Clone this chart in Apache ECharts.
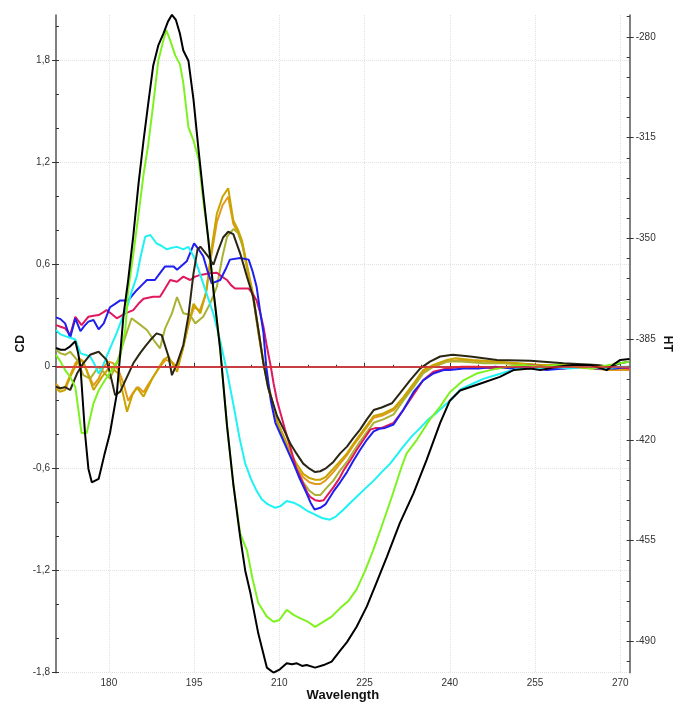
<!DOCTYPE html>
<html><head><meta charset="utf-8">
<script src="https://cdn.jsdelivr.net/npm/echarts@6/dist/echarts.min.js"></script>
<style>html,body{margin:0;padding:0;background:#fff}#c{width:677px;height:704px}</style>
</head><body><div id="c"></div>
<script>
// ---- axis ticks ----
const xTicks = [180,195,210,225,240,255,270];
const xMinorTicks = [175,180,185,190,195,200,205,210,215,220,225,230,235,240,245,250,255,260,265,270];
const cdTicks = [-1.8,-1.2,-0.6,0,0.6,1.2,1.8];
const cdMinorTicks = [-1.8,-1.6,-1.4,-1.2,-1.0,-0.8,-0.6,-0.4,-0.2,0,0.2,0.4,0.6,0.8,1.0,1.2,1.4,1.6,1.8,2.0];
const htTicks = [-490,-455,-420,-385,-350,-315,-280];
const htMinorTicks = [-497,-490,-483,-476,-469,-462,-455,-448,-441,-434,-427,-420,-413,-406,-399,-392,-385,-378,-371,-364,-357,-350,-343,-336,-329,-322,-315,-308,-301,-294,-287,-280,-273];

// ---- series values: [wavelength, CD] ----
const blackData = [[170.7,0.11],[171.5,0.1],[172.3,0.1],[173.2,0.12],[174.1,0.15],[174.6,0.08],[175.0,0.0],[175.8,-0.39],[176.4,-0.6],[177.0,-0.68],[178.2,-0.66],[179.2,-0.52],[180.2,-0.39],[181.4,-0.16],[182.6,0.31],[183.4,0.51],[184.3,0.77],[185.2,1.07],[186.1,1.33],[186.9,1.54],[187.8,1.77],[188.7,1.89],[189.6,1.96],[190.4,2.03],[191.1,2.07],[191.8,2.04],[192.5,1.96],[193.1,1.86],[194.0,1.8],[194.9,1.57],[195.8,1.27],[196.6,1.02],[197.5,0.75],[198.5,0.42],[199.6,0.1],[200.8,-0.35],[201.9,-0.69],[203.1,-1.0],[204.0,-1.2],[204.9,-1.33],[206.3,-1.57],[207.8,-1.77],[209.0,-1.8],[210.1,-1.78],[211.3,-1.745],[212.2,-1.75],[213.1,-1.745],[214.0,-1.76],[214.8,-1.755],[216.3,-1.77],[217.8,-1.755],[219.2,-1.735],[220.7,-1.67],[221.9,-1.62],[223.6,-1.53],[225.4,-1.41],[227.1,-1.27],[228.9,-1.12],[231.2,-0.92],[233.6,-0.745],[235.9,-0.55],[238.3,-0.33],[240.0,-0.2],[241.8,-0.14],[245.3,-0.1],[248.8,-0.06],[251.2,-0.02],[254.2,-0.01],[255.9,-0.02],[258.8,0.0],[261.7,0.01],[264.7,0.01],[267.6,-0.02],[269.1,0.02],[270.0,0.04],[271.6,0.045]];
const limeData = [[170.7,0.07],[171.5,0.03],[172.3,-0.02],[173.2,-0.06],[174.1,-0.12],[175.2,-0.39],[176.1,-0.39],[177.3,-0.215],[178.2,-0.14],[179.3,-0.08],[180.5,-0.02],[182.0,0.06],[182.9,0.22],[183.4,0.45],[184.3,0.66],[185.2,0.89],[186.1,1.13],[186.9,1.3],[187.8,1.54],[188.7,1.8],[189.6,1.92],[190.1,1.98],[190.8,1.92],[191.7,1.83],[192.5,1.78],[193.1,1.67],[194.0,1.41],[194.9,1.33],[195.8,1.22],[196.6,0.98],[197.5,0.75],[198.5,0.42],[199.6,0.1],[200.8,-0.35],[201.9,-0.69],[203.1,-0.98],[204.3,-1.08],[205.3,-1.25],[206.3,-1.39],[207.8,-1.47],[209.0,-1.5],[210.0,-1.49],[211.3,-1.43],[212.5,-1.46],[213.7,-1.48],[215.0,-1.5],[216.3,-1.53],[217.8,-1.5],[219.2,-1.47],[220.7,-1.42],[222.1,-1.38],[223.6,-1.31],[225.1,-1.2],[226.5,-1.08],[228.0,-0.94],[229.8,-0.765],[231.5,-0.59],[232.4,-0.51],[234.2,-0.43],[236.5,-0.31],[238.3,-0.235],[240.0,-0.15],[242.4,-0.08],[244.7,-0.04],[247.1,-0.02],[250,0.0],[253,0.01],[256,0.0],[259,0.01],[262,0.0],[265,-0.01],[268,0.01],[270,0.02],[271.6,0.03]];
const cyanData = [[170.7,0.215],[171.5,0.19],[172.3,0.18],[173.2,0.17],[174.1,0.16],[175.0,0.08],[175.8,0.07],[176.7,0.06],[177.4,0.02],[178.2,-0.04],[178.9,0.0],[179.6,0.06],[180.5,0.13],[181.4,0.2],[182.3,0.28],[183.2,0.35],[184.0,0.44],[184.9,0.53],[185.6,0.65],[186.4,0.765],[187.3,0.775],[188.4,0.725],[189.3,0.71],[190.2,0.69],[191.1,0.7],[192.0,0.705],[193.1,0.69],[194.0,0.705],[194.9,0.65],[195.8,0.57],[196.6,0.49],[197.5,0.4],[198.4,0.31],[199.6,0.15],[200.8,-0.03],[201.9,-0.22],[203.0,-0.42],[204.0,-0.57],[205.0,-0.66],[206.0,-0.73],[206.9,-0.78],[208.0,-0.81],[209.3,-0.83],[210.2,-0.82],[211.3,-0.79],[212.5,-0.8],[213.7,-0.82],[215.0,-0.85],[216.3,-0.87],[217.5,-0.89],[218.9,-0.9],[220.0,-0.88],[221.3,-0.84],[222.5,-0.8],[223.6,-0.765],[225.0,-0.72],[226.6,-0.67],[228.0,-0.62],[229.5,-0.57],[231.8,-0.47],[233.3,-0.41],[234.8,-0.36],[236.2,-0.31],[237.7,-0.27],[240.0,-0.2],[242.0,-0.13],[244.0,-0.1],[246.0,-0.07],[248.0,-0.05],[250.0,-0.03],[252.0,-0.01],[255,-0.01],[258,0.0],[261,-0.01],[264,0.0],[267,-0.01],[270,0.0],[271.6,0.0]];
const blueData = [[170.7,0.29],[171.5,0.28],[172.3,0.255],[173.2,0.17],[174.1,0.285],[175.0,0.21],[175.7,0.24],[176.4,0.265],[177.3,0.275],[178.2,0.22],[179.1,0.255],[180.2,0.35],[181.1,0.37],[182.0,0.39],[183.4,0.39],[184.9,0.45],[185.8,0.48],[186.7,0.51],[188.1,0.51],[189.0,0.55],[189.9,0.59],[191.4,0.59],[192.0,0.57],[193.7,0.62],[195.0,0.725],[195.8,0.69],[196.6,0.65],[197.3,0.57],[198.1,0.49],[199.6,0.51],[200.5,0.57],[201.3,0.63],[203.1,0.64],[204.6,0.63],[205.3,0.56],[206.0,0.47],[206.6,0.33],[207.2,0.2],[207.7,0.0],[208.5,-0.2],[209.3,-0.33],[210.1,-0.39],[211.3,-0.48],[212.5,-0.57],[213.6,-0.66],[214.8,-0.745],[215.5,-0.8],[216.2,-0.84],[217.2,-0.83],[218.1,-0.81],[219.5,-0.735],[220.7,-0.68],[221.9,-0.62],[223.0,-0.555],[224.2,-0.49],[225.4,-0.43],[226.6,-0.38],[227.6,-0.365],[228.6,-0.36],[230.1,-0.34],[231.8,-0.255],[233.6,-0.15],[235.3,-0.08],[237.1,-0.04],[238.9,-0.02],[240.0,-0.02],[242.4,-0.01],[245,-0.01],[248,0.0],[251,-0.01],[254,0.0],[257,-0.02],[260,-0.01],[263,0.0],[266,-0.01],[269,-0.01],[271.6,0.0]];
const crimsonData = [[170.7,0.245],[171.5,0.235],[172.3,0.226],[173.2,0.186],[174.1,0.294],[175.2,0.245],[175.8,0.27],[176.4,0.294],[177.3,0.3],[178.2,0.304],[179.0,0.32],[179.6,0.333],[180.5,0.31],[181.4,0.285],[182.9,0.314],[184.3,0.333],[185.2,0.37],[186.1,0.4],[187.8,0.412],[189.0,0.412],[189.9,0.46],[190.8,0.51],[192.0,0.5],[193.1,0.53],[194.3,0.51],[195.2,0.53],[196.1,0.54],[197.8,0.55],[199.0,0.553],[199.9,0.53],[200.8,0.51],[201.5,0.48],[202.2,0.46],[203.4,0.46],[204.6,0.46],[205.3,0.43],[206.0,0.39],[206.6,0.32],[207.2,0.235],[207.8,0.12],[208.5,0.0],[209.0,-0.1],[209.6,-0.2],[210.1,-0.26],[211.0,-0.37],[211.9,-0.47],[213.0,-0.6],[213.7,-0.65],[214.9,-0.74],[215.4,-0.765],[216.3,-0.785],[217.1,-0.79],[217.8,-0.785],[218.6,-0.75],[219.5,-0.71],[220.5,-0.66],[221.3,-0.61],[222.5,-0.55],[223.6,-0.49],[224.8,-0.43],[226.0,-0.37],[227.0,-0.36],[228.0,-0.36],[230.1,-0.33],[231.8,-0.255],[233.6,-0.165],[235.3,-0.08],[237.1,-0.03],[239.5,-0.01],[242,0.0],[245,0.0],[248,-0.01],[251,0.0],[254,0.01],[257,0.0],[260,-0.01],[263,0.0],[266,-0.01],[269,0.0],[271.6,-0.01]];
const darkData = [[170.7,-0.118],[171.4,-0.127],[172.3,-0.12],[173.2,-0.137],[174.4,-0.04],[175.5,0.02],[176.7,0.07],[178.2,0.088],[179.6,0.04],[180.5,-0.08],[181.1,-0.167],[182.0,-0.147],[183.2,-0.06],[184.3,0.02],[185.5,0.08],[186.4,0.12],[187.3,0.157],[188.4,0.196],[189.3,0.186],[190.5,0.06],[191.1,-0.05],[192.0,0.02],[193.1,0.128],[194.0,0.3],[194.9,0.55],[195.6,0.69],[196.1,0.706],[197.5,0.647],[198.4,0.6],[199.2,0.68],[200.1,0.76],[201.0,0.794],[201.9,0.78],[203.1,0.667],[204.3,0.53],[205.4,0.41],[206.3,0.22],[207.2,0.02],[208.0,-0.12],[209.6,-0.29],[210.8,-0.37],[211.9,-0.45],[213.0,-0.51],[214.2,-0.57],[215.3,-0.6],[216.3,-0.62],[217.2,-0.615],[218.1,-0.6],[219.5,-0.56],[220.7,-0.51],[221.9,-0.47],[223.0,-0.42],[224.2,-0.37],[225.4,-0.31],[226.6,-0.255],[228.0,-0.24],[229.8,-0.215],[231.2,-0.157],[233.0,-0.08],[234.8,-0.01],[236.5,0.03],[238.3,0.06],[240.5,0.07],[243.6,0.06],[248.3,0.04],[254.2,0.035],[260,0.02],[265.9,0.01],[268.2,0.0],[270,0.02],[271.6,0.03]];
const goldData = [[170.7,-0.127],[171.4,-0.147],[172.3,-0.137],[173.2,-0.06],[174.4,0.02],[175.2,0.04],[176.1,-0.02],[177.3,-0.137],[178.8,-0.06],[180.2,0.0],[181.7,-0.04],[183.2,-0.265],[184.1,-0.17],[184.9,-0.12],[186.1,-0.176],[187.8,-0.06],[189.6,0.04],[190.5,0.06],[192.0,-0.03],[193.1,0.118],[194.9,0.37],[196.1,0.314],[197.2,0.45],[198.1,0.7],[199.0,0.9],[200.0,1.0],[201.0,1.05],[201.9,0.86],[202.8,0.8],[203.4,0.745],[204.3,0.6],[205.4,0.42],[206.3,0.22],[207.2,0.03],[208.0,-0.1],[209.6,-0.32],[210.8,-0.41],[211.9,-0.5],[213.0,-0.57],[214.2,-0.63],[215.3,-0.655],[216.3,-0.665],[217.2,-0.665],[218.1,-0.65],[219.5,-0.6],[220.7,-0.555],[221.9,-0.51],[223.0,-0.455],[224.2,-0.4],[225.4,-0.345],[226.6,-0.29],[228.3,-0.275],[230.1,-0.245],[231.8,-0.18],[233.6,-0.1],[235.3,-0.02],[237.1,0.01],[239.5,0.04],[241,0.05],[244,0.04],[248,0.03],[252,0.02],[256,0.01],[260,0.01],[264,0.0],[268,-0.01],[271.6,-0.01]];
const oliveData = [[170.7,0.1],[171.4,0.08],[172.3,0.07],[173.2,0.088],[174.4,0.04],[175.5,-0.05],[176.7,-0.07],[178.2,0.0],[179.3,-0.04],[180.2,-0.07],[181.4,0.02],[182.9,0.176],[184.0,0.285],[185.2,0.255],[186.7,0.216],[188.1,0.147],[189.0,0.108],[189.9,0.226],[191.1,0.314],[192.0,0.41],[193.1,0.314],[194.3,0.304],[195.2,0.255],[196.6,0.294],[197.8,0.37],[199.0,0.47],[200.0,0.65],[200.8,0.765],[201.9,0.81],[202.8,0.785],[203.6,0.7],[204.4,0.57],[205.4,0.42],[206.3,0.21],[207.2,0.02],[208.0,-0.12],[209.6,-0.33],[210.8,-0.43],[211.9,-0.52],[213.0,-0.6],[214.2,-0.68],[215.3,-0.73],[216.3,-0.755],[217.2,-0.755],[218.1,-0.72],[219.5,-0.67],[220.7,-0.61],[221.9,-0.56],[223.0,-0.5],[224.2,-0.44],[225.4,-0.385],[226.6,-0.33],[228.3,-0.31],[230.1,-0.28],[231.8,-0.2],[233.6,-0.12],[235.3,-0.04],[237.1,0.0],[239.5,0.03],[242,0.03],[246,0.02],[250,0.02],[255,0.01],[260,0.0],[265,0.01],[268,-0.01],[271.6,0.0]];
const orangeData = [[170.7,-0.1],[171.5,-0.13],[172.3,-0.12],[173.2,-0.05],[174.1,0.02],[174.8,0.05],[175.5,0.03],[176.3,-0.04],[177.3,-0.11],[178.2,-0.07],[179.1,0.0],[180.0,0.03],[180.8,0.02],[181.7,-0.02],[182.6,-0.1],[183.4,-0.2],[184.3,-0.15],[185.2,-0.12],[186.1,-0.15],[187.0,-0.1],[188.0,-0.05],[189.0,0.0],[190.0,0.04],[191.0,0.03],[192.0,0.0],[193.0,0.1],[194.0,0.25],[195.0,0.35],[196.0,0.33],[197.0,0.42],[198.0,0.65],[199.0,0.85],[200.0,0.95],[201.0,1.0],[201.9,0.84],[202.8,0.78],[203.5,0.72],[204.3,0.58],[205.4,0.4],[206.3,0.2],[207.2,0.02],[208.0,-0.1],[209.6,-0.32],[210.8,-0.42],[211.9,-0.51],[213.0,-0.59],[214.2,-0.65],[215.3,-0.68],[216.3,-0.69],[217.2,-0.69],[218.1,-0.67],[219.5,-0.62],[220.7,-0.57],[221.9,-0.52],[223.0,-0.465],[224.2,-0.41],[225.4,-0.355],[226.6,-0.3],[228.3,-0.285],[230.1,-0.255],[231.8,-0.19],[233.6,-0.11],[235.3,-0.03],[237.1,0.0],[239.5,0.03],[242,0.04],[246,0.03],[250,0.02],[255,0.01],[260,0.0],[265,-0.01],[268,-0.02],[271.6,-0.02]];

const FONT = 'Liberation Sans';
const chart = echarts.init(document.getElementById('c'), null, {renderer:'canvas'});

function line(name, data, color, extra) {
  return Object.assign({
    name, type:'line', data, xAxisIndex:0, yAxisIndex:0,
    symbol:'none', showSymbol:false, smooth:false,
    lineStyle:{color, width:2}, itemStyle:{color},
    emphasis:{disabled:true}, silent:true
  }, extra || {});
}

const XMIN = 170.7, XMAX = 271.65, YMIN = -1.8, YMAX = 2.069, HMIN = -500.9, HMAX = -272.4;
const axisLineStyle = {color:'#555', width:1.5};

chart.setOption({
  animation:false,
  backgroundColor:'#fff',
  grid:{left:56, right:47.3, top:15, bottom:31.3, containLabel:false, outerBoundsMode:'none'},
  xAxis:[
    {type:'value', min:XMIN, max:XMAX, position:'bottom',
     axisLine:{show:true, lineStyle:axisLineStyle},
     axisTick:{show:true, inside:true, length:4, customValues:xTicks, lineStyle:{color:'#333'}},
     axisLabel:{customValues:xTicks, fontSize:10, color:'#333', margin:6, fontFamily:FONT},
     splitLine:{show:true, lineStyle:{color:'#e2e2e2', type:'dotted', width:1}},
     name:'Wavelength', nameLocation:'middle', nameGap:16, nameMoveOverlap:false,
     nameTextStyle:{fontWeight:'bold', fontSize:13, color:'#111', fontFamily:FONT}},
    {type:'value', min:XMIN, max:XMAX, position:'bottom',
     axisLine:{show:false}, axisLabel:{show:false},
     axisTick:{show:true, inside:true, length:2, customValues:xMinorTicks, lineStyle:{color:'#333'}},
     splitLine:{show:false}}
  ],
  yAxis:[
    {type:'value', min:YMIN, max:YMAX, position:'left',
     axisLine:{show:true, lineStyle:axisLineStyle},
     axisTick:{show:true, length:4, customValues:cdTicks, lineStyle:{color:'#333'}},
     axisLabel:{customValues:cdTicks, fontSize:10, color:'#333', margin:6, fontFamily:FONT,
       formatter:v => String(Math.round(v*10)/10).replace('.', ',')},
     splitLine:{show:true, lineStyle:{color:'#e2e2e2', type:'dotted', width:1}},
     name:'CD', nameLocation:'middle', nameGap:29, nameMoveOverlap:false,
     nameTextStyle:{fontWeight:'bold', fontSize:12, color:'#111', fontFamily:FONT}},
    {type:'value', min:HMIN, max:HMAX, position:'right',
     axisLine:{show:true, lineStyle:axisLineStyle},
     axisTick:{show:true, length:4, customValues:htTicks, lineStyle:{color:'#333'}},
     axisLabel:{customValues:htTicks, fontSize:10, color:'#333', margin:6, fontFamily:FONT},
     splitLine:{show:false},
     name:'HT', nameLocation:'middle', nameGap:32, nameRotate:-90, nameMoveOverlap:false,
     nameTextStyle:{fontWeight:'bold', fontSize:12, color:'#111', fontFamily:FONT}},
    {type:'value', min:YMIN, max:YMAX, position:'left',
     axisLine:{show:false}, axisLabel:{show:false}, splitLine:{show:false},
     axisTick:{show:true, inside:true, length:3, customValues:cdMinorTicks, lineStyle:{color:'#333'}}},
    {type:'value', min:HMIN, max:HMAX, position:'right',
     axisLine:{show:false}, axisLabel:{show:false}, splitLine:{show:false},
     axisTick:{show:true, inside:true, length:3, customValues:htMinorTicks, lineStyle:{color:'#333'}}}
  ],
  series:[
    line('orange', orangeData, '#e39a1c', {
      markLine:{silent:true, symbol:'none', label:{show:false},
        lineStyle:{color:'#e0282f', width:1.5, type:'solid'}, data:[{yAxis:0}]}
    }),
    line('olive', oliveData, '#a9b232'),
    line('gold', goldData, '#c9a400'),
    line('crimson', crimsonData, '#e0185e'),
    line('blue', blueData, '#1f1fee'),
    line('cyan', cyanData, '#1ef2f2'),
    line('dark', darkData, '#2a2613'),
    line('lime', limeData, '#7ef220'),
    line('black', blackData, '#000000')
  ]
});
</script>
</body></html>
